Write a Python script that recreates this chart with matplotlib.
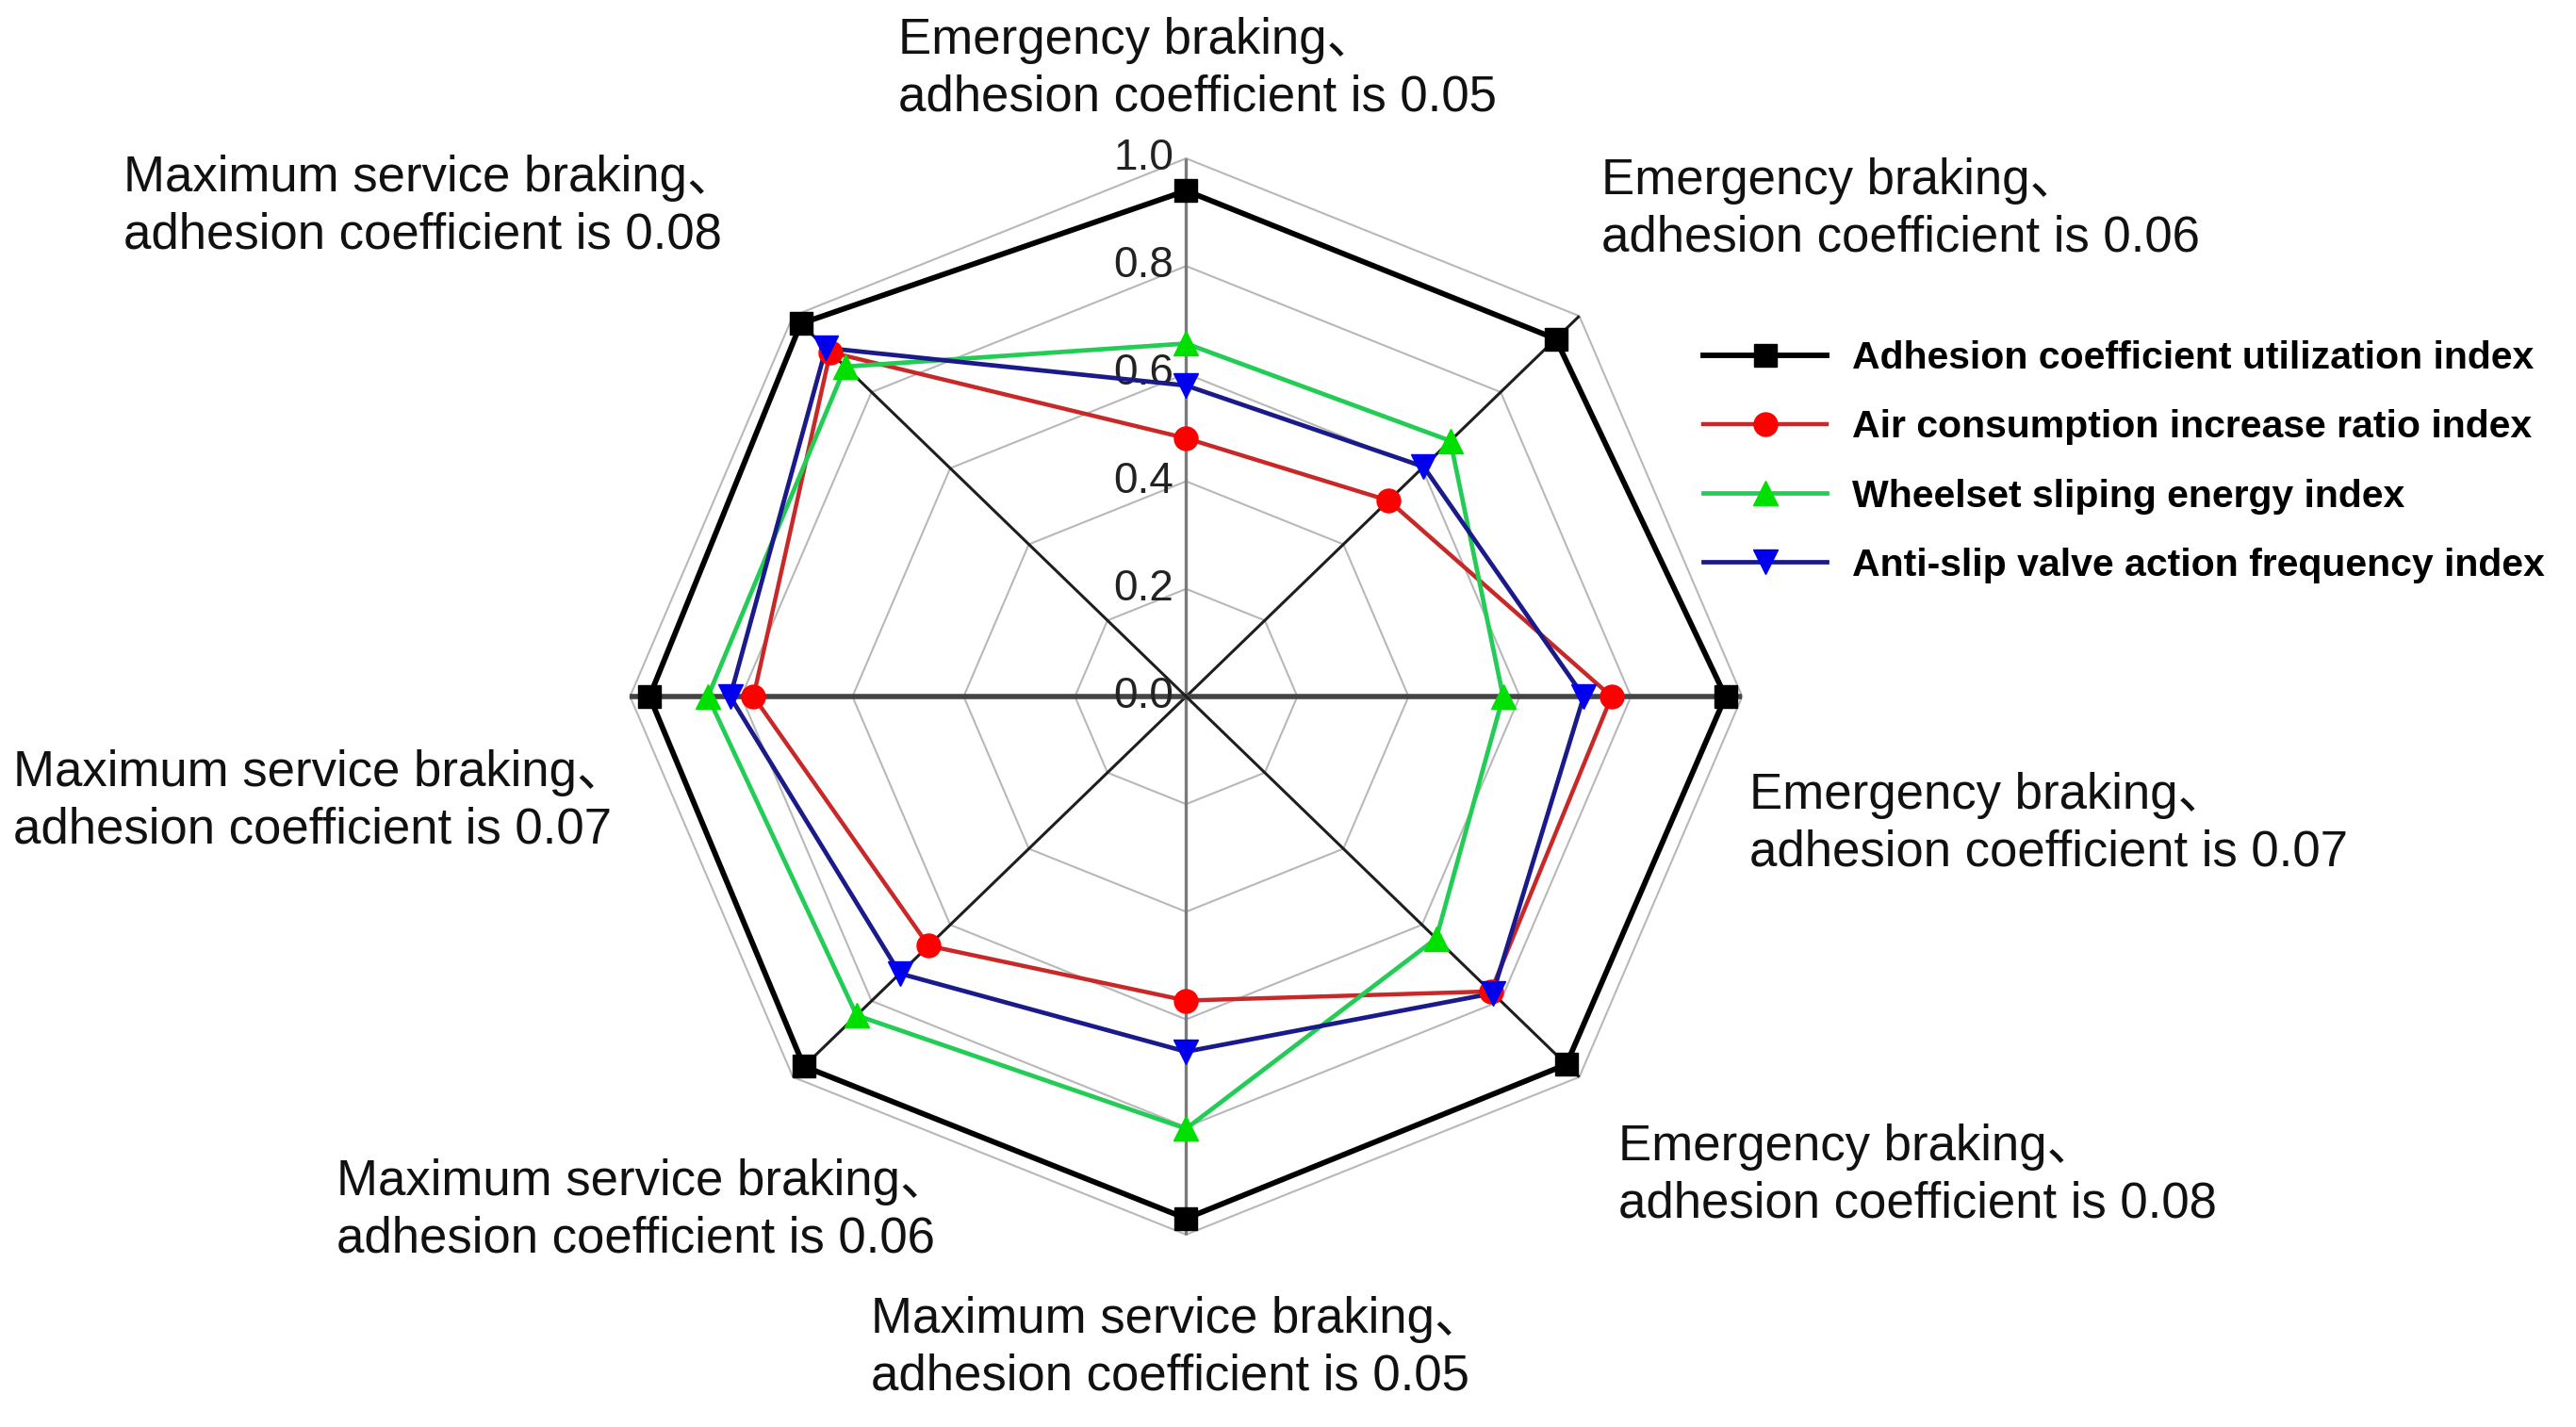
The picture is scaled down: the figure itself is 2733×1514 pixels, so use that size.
import numpy as np
import matplotlib
matplotlib.use("Agg")
import matplotlib.pyplot as plt

# ── Data ───────────────────────────────────────────────────────────────────────
CATEGORIES = [
    "Emergency braking、\nadhesion coefficient is 0.05",
    "Emergency braking、\nadhesion coefficient is 0.06",
    "Emergency braking、\nadhesion coefficient is 0.07",
    "Emergency braking、\nadhesion coefficient is 0.08",
    "Maximum service braking、\nadhesion coefficient is 0.05",
    "Maximum service braking、\nadhesion coefficient is 0.06",
    "Maximum service braking、\nadhesion coefficient is 0.07",
    "Maximum service braking、\nadhesion coefficient is 0.08",
]
ADHESION = [0.94, 0.94, 0.97, 0.967, 0.97, 0.972, 0.965, 0.98]
AIR      = [0.48, 0.515, 0.765, 0.775, 0.565, 0.655, 0.778, 0.905]
WHEELSET = [0.656, 0.672, 0.57, 0.636, 0.803, 0.838, 0.86, 0.867]
ANTISLIP = [0.578, 0.604, 0.715, 0.78, 0.66, 0.728, 0.82, 0.916]

SERIES_NAMES = [
    "Adhesion coefficient utilization index",
    "Air consumption increase ratio index",
    "Wheelset sliping energy index",
    "Anti-slip valve action frequency index",
]
RING_LEVELS = [0.2, 0.4, 0.6, 0.8, 1.0]
TICK_VALUES = [0.0, 0.2, 0.4, 0.6, 0.8, 1.0]
TICK_LABELS = ["0.0", "0.2", "0.4", "0.6", "0.8", "1.0"]

# ── Style ──────────────────────────────────────────────────────────────────────
LINE_COLORS   = ["#000000", "#c82828", "#22cc55", "#1a1a8a"]
MARKER_COLORS = ["#000000", "#ff0000", "#00e000", "#0000ee"]
MARKERS       = ["s", "o", "^", "v"]
LINE_WIDTHS   = [4.2, 3.2, 3.4, 3.4]
MARKER_SIZES  = [17, 18, 19, 19]

# label anchor (left edge, vertical centre) in figure fractions
LABEL_POS = [
    (0.3487, 0.9515), (0.6217, 0.8530), (0.6791, 0.4224), (0.6282, 0.1760),
    (0.3381, 0.0552), (0.1306, 0.1516), (0.0051, 0.4382), (0.0479, 0.8550),
]
TEXT_FONT = ["Liberation Sans", "Noto Sans CJK SC", "DejaVu Sans"]

n = len(CATEGORIES)
theta = np.arange(n) * 2 * np.pi / n          # clockwise from top


def to_xy(vals):
    vals = np.asarray(vals, dtype=float)
    x = vals * np.sin(theta)
    y = vals * np.cos(theta)
    return np.append(x, x[0]), np.append(y, y[0])


fig = plt.figure(figsize=(27.33, 15.14), dpi=100)
ax = fig.add_axes([0.2230, 0.0971, 0.4749, 0.8296])
ax.set_xlim(-1.1, 1.1)
ax.set_ylim(-1.1, 1.1)
ax.axis("off")

# grid rings
for lvl in RING_LEVELS:
    gx, gy = to_xy([lvl] * n)
    ax.plot(gx, gy, color="#b8b8b8", lw=1.5, zorder=1)

# spokes
for k in range(4):
    dx, dy = np.sin(theta[k]), np.cos(theta[k])
    if k == 0:
        c, w = "#7a7a7a", 2.4
    elif k == 2:
        c, w = "#444444", 4.0
    else:
        c, w = "#1e1e1e", 2.2
    ax.plot([-dx, dx], [-dy, dy], color=c, lw=w, zorder=2, solid_capstyle="butt")

# tick labels on the vertical axis
for v, t in zip(TICK_VALUES, TICK_LABELS):
    ax.text(-0.022, v, t, ha="right", va="center", fontsize=33,
            color="#222222", family=TEXT_FONT, zorder=3)

# series
for vals, name, lc, mc, mk, lw, ms in zip(
        [ADHESION, AIR, WHEELSET, ANTISLIP], SERIES_NAMES,
        LINE_COLORS, MARKER_COLORS, MARKERS, LINE_WIDTHS, MARKER_SIZES):
    sx, sy = to_xy(vals)
    ax.plot(sx, sy, color=lc, lw=lw, zorder=4)
    ax.plot(sx[:-1], sy[:-1], ls="none", marker=mk, ms=ms,
            mfc=mc, mec=mc, zorder=5)
    ax.plot([], [], color=lc, lw=lw, marker=mk, ms=ms, mfc=mc, mec=mc, label=name)

# category labels
for lab, (px, py) in zip(CATEGORIES, LABEL_POS):
    fig.text(px, py, lab, ha="left", va="center", fontsize=38,
             family=TEXT_FONT, color="#111111", linespacing=1.27)

ax.legend(loc="upper left", bbox_to_anchor=(0.6612, 0.7615),
          bbox_transform=fig.transFigure, frameon=False, borderpad=0,
          borderaxespad=0, handlelength=3.2, handletextpad=0.65,
          labelspacing=0.86, prop={"family": "Liberation Sans",
                                   "weight": "bold", "size": 29.5})

fig.savefig("out.png", dpi=100)
